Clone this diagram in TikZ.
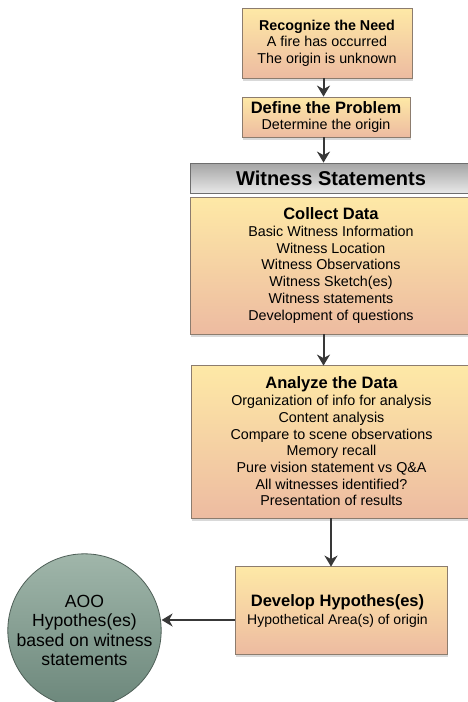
\documentclass[tikz,border=0pt]{standalone}
\usepackage{fontspec}
\setmainfont{Liberation Sans}
\usetikzlibrary{arrows.meta,shadows}
\definecolor{boxtop}{HTML}{FEE9A6}
\definecolor{boxbot}{HTML}{EDBBA1}
\definecolor{boxline}{HTML}{8C7C6E}
\definecolor{bartop}{HTML}{A4A4A4}
\definecolor{barbot}{HTML}{E8E8E8}
\definecolor{barline}{HTML}{6E6E6E}
\definecolor{circtop}{HTML}{A0B6AA}
\definecolor{circbot}{HTML}{6C877B}
\definecolor{circline}{HTML}{4E5F57}
\definecolor{arrowcol}{HTML}{383838}
\tikzset{
  stepbox/.style={rectangle, draw=boxline, line width=0.8pt, top color=boxtop, bottom color=boxbot,
    align=center, inner sep=0pt, font=\fontsize{14.3pt}{16.7pt}\selectfont,
    drop shadow={shadow xshift=1pt, shadow yshift=-3pt, opacity=0.15, fill=black}},
  headbar/.style={rectangle, draw=barline, line width=0.8pt, top color=bartop, bottom color=barbot,
    align=center, inner sep=0pt, font=\bfseries\fontsize{20pt}{22pt}\selectfont},
  hypcirc/.style={circle, draw=circline, line width=0.8pt, top color=circtop, bottom color=circbot,
    align=center, inner sep=0pt, minimum size=145pt, font=\fontsize{17.6pt}{19.5pt}\selectfont},
  flow/.style={draw=arrowcol, line width=2pt, -{Stealth[length=11pt,width=13pt,inset=3.5pt]}}
}
\newcommand{\tbig}[1]{{\bfseries\fontsize{16.5pt}{16.7pt}\selectfont #1}}
\begin{document}
\begin{tikzpicture}[x=1pt,y=1pt]
\useasboundingbox (0,0) rectangle (467,-702);
\fill[white] (0,0) rectangle (467,-702);

\node[stepbox, minimum width=170pt, minimum height=70pt] (need) at (327,-43)
  {{\bfseries Recognize the Need}\\A fire has occurred\\The origin is unknown};
\node[stepbox, minimum width=168pt, minimum height=40pt] (prob) at (326,-117)
  {\tbig{Define the Problem}\\Determine the origin};
\node[headbar, minimum width=282pt, minimum height=30pt] (wit) at (331,-178)
  {Witness Statements};
\node[stepbox, minimum width=282pt, minimum height=137pt] (coll) at (331,-265.5)
  {\tbig{Collect Data}\\Basic Witness Information\\Witness Location\\Witness Observations\\Witness Sketch(es)\\Witness statements\\Development of questions};
\node[stepbox, minimum width=281pt, minimum height=153pt] (anal) at (331.5,-441.5)
  {\tbig{Analyze the Data}\\Organization of info for analysis\\Content analysis\\Compare to scene observations\\Memory recall\\Pure vision statement vs Q\&A\\All witnesses identified?\\Presentation of results};
\node[stepbox, minimum width=212pt, minimum height=88pt] (dev) at (341,-610) {};
\node[align=center, inner sep=0pt, font=\fontsize{14pt}{18pt}\selectfont] (devtxt) at (337.5,-611)
  {\tbig{Develop Hypothes(es)}\\Hypothetical Area(s) of origin};
\node[hypcirc] (aoo) at (84.5,-630.5)
  {AOO\\Hypothes(es)\\based on witness\\statements};

\coordinate (xa) at (323.5,0);
\coordinate (xb) at (331,0);
\coordinate (yl) at (0,-620);
\draw[flow] (need.south -| xa) -- (prob.north -| xa);
\draw[flow] (prob.south -| xa) -- (wit.north -| xa);
\draw[flow] (coll.south -| xa) -- ([yshift=-1pt]anal.north -| xa);
\draw[flow] (anal.south -| xb) -- ([yshift=-1pt]dev.north -| xb);
\draw[flow] (dev.west |- yl) -- (aoo.east |- yl);
\end{tikzpicture}
\end{document}
